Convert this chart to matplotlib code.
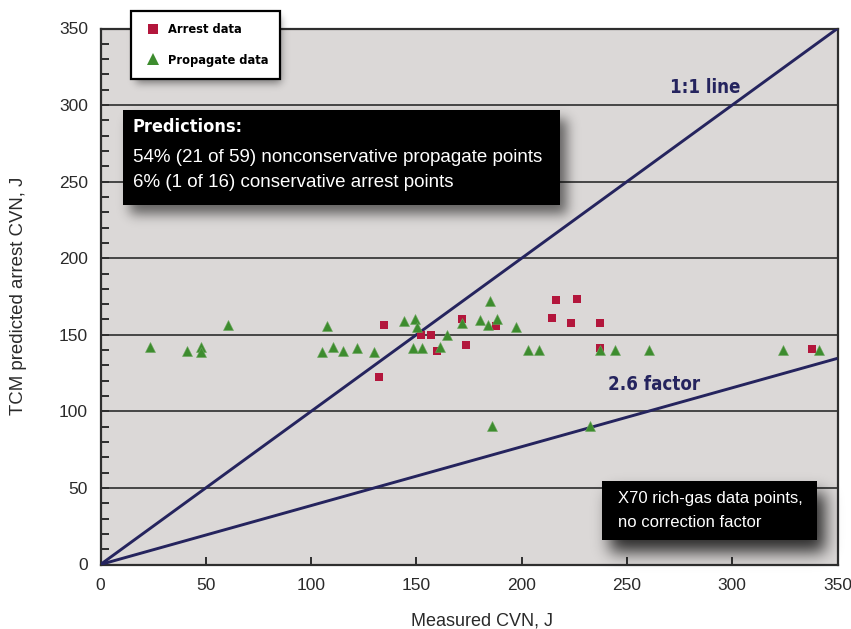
import math
import os
import numpy as np
import matplotlib
matplotlib.use("Agg")
import matplotlib.pyplot as plt
from matplotlib import font_manager
from matplotlib.font_manager import FontProperties
from matplotlib.patches import Rectangle
from matplotlib.lines import Line2D

# ---- data -------------------------------------------------------------
arrest_measured = [132.2, 134.6, 152.2, 156.9, 159.8, 171.7, 173.6, 187.7,
                   214.4, 216.3, 226.3, 223.4, 237.2, 237.2, 337.9]
arrest_predicted = [122.7, 156.4, 149.9, 149.9, 139.4, 160.4, 143.4, 155.8,
                    161.0, 172.8, 173.4, 157.7, 157.7, 141.4, 140.8]

propagate_measured = [23.5, 41.1, 47.7, 47.7, 60.5, 105.2, 107.5, 110.4, 115.1,
                      121.8, 129.9, 144.1, 149.3, 150.3, 148.4, 152.7, 161.2,
                      164.5, 171.7, 180.2, 184.0, 184.9, 188.3, 197.3, 203.0,
                      208.2, 237.2, 244.3, 260.4, 324.1, 341.2, 185.9, 232.4]
propagate_predicted = [142.1, 139.4, 142.1, 138.8, 156.4, 138.8, 155.7, 142.1,
                       139.4, 141.4, 138.8, 159.1, 160.4, 155.1, 141.4, 141.4,
                       142.1, 149.9, 157.7, 159.7, 156.4, 172.1, 160.4, 155.1,
                       140.1, 140.1, 140.1, 140.1, 140.1, 140.1, 140.1, 90.5,
                       90.5]

ratio_factors = [1.0, 2.6]
ratio_labels = ["1:1 line", "2.6 factor"]

x_ticks = [0, 50, 100, 150, 200, 250, 300, 350]
y_ticks = [0, 50, 100, 150, 200, 250, 300, 350]

legend_labels = ["Arrest data", "Propagate data"]
predictions_title = "Predictions:"
predictions_lines = ["54% (21 of 59) nonconservative propagate points",
                     "6% (1 of 16) conservative arrest points"]
note_lines = ["X70 rich-gas data points,", "no correction factor"]

# ---- fonts ------------------------------------------------------------
REG = "Liberation Sans"
plt.rcParams["font.family"] = [REG, "DejaVu Sans"]


def _weight(f):
    w = f.weight
    if isinstance(w, str):
        w = font_manager.weight_dict.get(w, 400)
    return w


def bold_condensed_font():
    """Pick a bold narrow/condensed face if one is installed."""
    picks = []
    for f in font_manager.fontManager.ttflist:
        tag = (f.name + " " + os.path.basename(f.fname)).lower()
        narrow = ("narrow" in tag or "condensed" in tag
                  or f.stretch in ("condensed", "semi-condensed"))
        if narrow and f.style == "normal" and _weight(f) >= 600:
            rank = 0 if "liberation" in tag else (1 if "dejavu" in tag else 2)
            picks.append((rank, f.fname))
    if picks:
        picks.sort()
        return FontProperties(fname=picks[0][1])
    return FontProperties(family=REG, weight="bold")


BOLD = bold_condensed_font()

RED = "#b3163c"
GREEN = "#3d8c2e"
NAVY = "#25245e"
PLOT_BG = "#dbd8d7"
DARK = "#2e2e2e"

W, H = 851, 629
fig = plt.figure(figsize=(W / 100, H / 100), dpi=100)
renderer = fig.canvas.get_renderer()


def fitted_size(text, fp, width_px):
    """Font size (pt) at which `text` in `fp` spans about `width_px` pixels."""
    probe = fig.text(0, 0, text, fontproperties=fp, fontsize=20)
    w = probe.get_window_extent(renderer).width
    probe.remove()
    return 20 * width_px / w


L, R, T, B = 100.5, 837.5, 28.5, 564.5
ax = fig.add_axes([L / W, (H - B) / H, (R - L) / W, (B - T) / H], zorder=0)
ax.set_facecolor(PLOT_BG)
ax.set_xlim(0, 350)
ax.set_ylim(0, 350)

for s in ax.spines.values():
    s.set_color(DARK)
    s.set_linewidth(1.6)

ax.set_xticks(x_ticks)
ax.set_yticks(y_ticks)
ax.set_yticks(np.arange(0, 351, 10), minor=True)
ax.tick_params(axis="both", which="major", direction="in", length=6,
               width=1.4, color=DARK, labelsize=12.5, labelcolor="#2a2a2a")
ax.tick_params(axis="x", which="major", pad=10)
ax.tick_params(axis="y", which="major", pad=9)
ax.tick_params(axis="y", which="minor", direction="in", length=6,
               width=1.4, color=DARK)
ax.yaxis.grid(True, which="major", color="#3a3a3a", linewidth=1.3)
ax.set_axisbelow(True)

# reference ratio lines through the origin
xs = np.array([0.0, 350.0])
for f in ratio_factors:
    ax.plot(xs, xs / f, color=NAVY, linewidth=2.1, zorder=3,
            solid_capstyle="butt")

ax.text(287, 311.5, ratio_labels[0], color=NAVY, fontproperties=BOLD,
        fontsize=fitted_size(ratio_labels[0], BOLD, 71),
        ha="center", va="center", zorder=4)
ax.text(263, 117.5, ratio_labels[1], color=NAVY, fontproperties=BOLD,
        fontsize=fitted_size(ratio_labels[1], BOLD, 92),
        ha="center", va="center", zorder=4)

ax.plot(arrest_measured, arrest_predicted, linestyle="none", marker="s",
        markersize=5.6, markerfacecolor=RED, markeredgewidth=0, zorder=5)
ax.plot(propagate_measured, propagate_predicted, linestyle="none",
        marker="^", markersize=7, markerfacecolor=GREEN,
        markeredgecolor="#6aa55c", markeredgewidth=0.4, zorder=6)

ax.set_xlabel("Measured CVN, J", fontsize=13, color="#2a2a2a")
ax.set_ylabel("TCM predicted arrest CVN, J", fontsize=13.4, color="#2a2a2a")
ax.xaxis.set_label_coords((482 - L) / (R - L), (B - 621) / (B - T))
ax.xaxis.label.set_va("center")
ax.yaxis.set_label_coords((19 - L) / (R - L), (B - 296) / (B - T))
ax.yaxis.label.set_va("center")

# ---- overlay in pixel coordinates for boxes and their soft shadows ----
ov = fig.add_axes([0, 0, 1, 1], zorder=2)
ov.patch.set_alpha(0)
ov.axis("off")

erf = np.vectorize(math.erf)
px = np.arange(W) + 0.5
py = np.arange(H) + 0.5


def soft_rect(x0, y0, x1, y1, sigma):
    k = 1.0 / (sigma * math.sqrt(2))
    fx = 0.5 * (erf((px - x0) * k) - erf((px - x1) * k))
    fy = 0.5 * (erf((py - y0) * k) - erf((py - y1) * k))
    return np.outer(fy, fx)


legend_box = (131, 11, 276, 77)
pred_box = (123, 110, 560, 205)
note_box = (602, 481, 817, 540)

shadow = np.zeros((H, W))
for (x0, y0, x1, y1), (dx, dy), sig, a in [
        (legend_box, (5, 6), 4.0, 0.45),
        (pred_box, (7, 9), 6.0, 0.55),
        (note_box, (8, 12), 8.0, 0.8)]:
    shadow = np.maximum(shadow, a * soft_rect(x0 + dx, y0 + dy,
                                               x1 + dx, y1 + dy, sig))
rgba = np.zeros((H, W, 4))
rgba[..., 3] = shadow
ov.imshow(rgba, extent=(0, W, H, 0), interpolation="bilinear",
          aspect="auto", zorder=0)
ov.set_xlim(0, W)
ov.set_ylim(H, 0)

for (x0, y0, x1, y1) in [pred_box, note_box]:
    ov.add_patch(Rectangle((x0, y0), x1 - x0, y1 - y0, facecolor="black",
                           edgecolor="none", zorder=1))

ov.text(133, 127, predictions_title, color="white", fontproperties=BOLD,
        fontsize=fitted_size(predictions_title, BOLD, 110),
        ha="left", va="center", zorder=2)
for i, line in enumerate(predictions_lines):
    ov.text(133, 157 + 25.5 * i, line, color="white", fontsize=13.5,
            ha="left", va="center", zorder=2)
for i, line in enumerate(note_lines):
    ov.text(618, 499 + 23.5 * i, line, color="white", fontsize=12,
            ha="left", va="center", zorder=2)

# legend box drawn in figure space above the frame
leg_fp = BOLD.copy()
leg_fp.set_size(fitted_size(legend_labels[1], BOLD, 100))
handles = [Line2D([], [], linestyle="none", marker="s", markersize=7.5,
                  markerfacecolor=RED, markeredgewidth=0),
           Line2D([], [], linestyle="none", marker="^", markersize=8.5,
                  markerfacecolor=GREEN, markeredgewidth=0)]
leg = fig.legend(handles, legend_labels,
                 loc="upper left",
                 bbox_to_anchor=(legend_box[0] / W, 1 - legend_box[1] / H),
                 bbox_transform=fig.transFigure, borderaxespad=0,
                 frameon=True, fancybox=False, edgecolor="black",
                 facecolor="white", framealpha=1, prop=leg_fp,
                 handlelength=1.5, handletextpad=0.45, labelspacing=1.4,
                 borderpad=0.95)
leg.get_frame().set_linewidth(1.6)
leg.set_zorder(10)

fig.savefig("out.png", dpi=100, facecolor="white")
